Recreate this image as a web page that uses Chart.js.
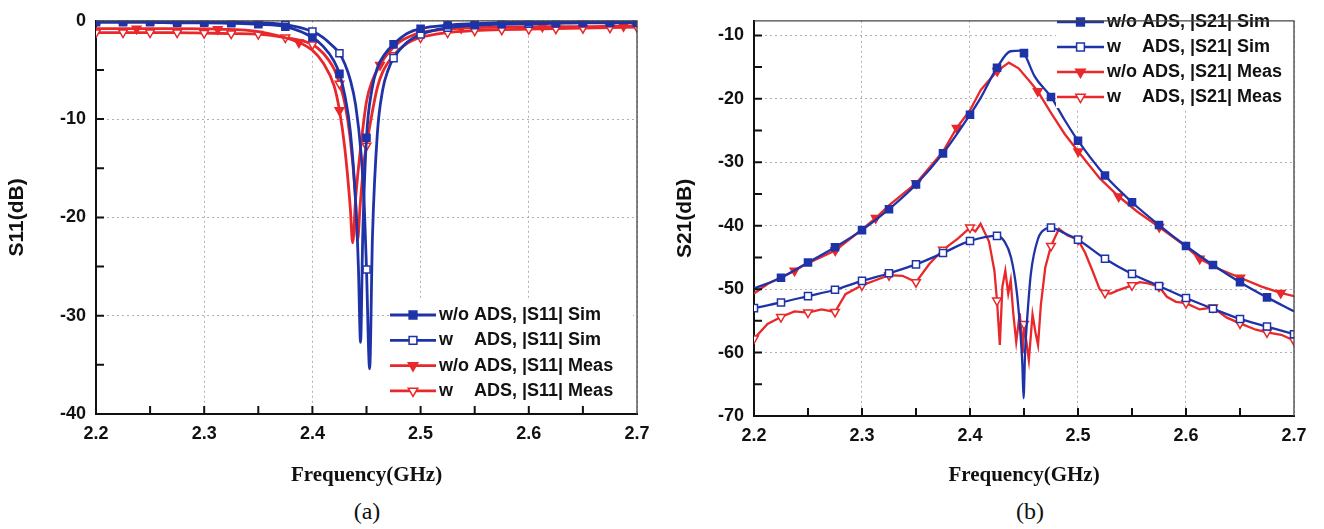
<!DOCTYPE html>
<html>
<head>
<meta charset="utf-8">
<script src="https://cdn.jsdelivr.net/npm/chart.js@4.4.0/dist/chart.umd.min.js"></script>
<style>
  body { margin: 0; background: #fff; width: 1324px; height: 529px; position: relative; overflow: hidden; }
  #chartA { position: absolute; left: 0; top: 0; }
  #chartB { position: absolute; left: 665px; top: 0; }
  .cap { position: absolute; top: 498px; width: 80px; text-align: center; font: 24px "Liberation Serif", "Times New Roman", serif; color: #111; }
</style>
</head>
<body>
<canvas id="chartA" width="665" height="490"></canvas>
<canvas id="chartB" width="659" height="490"></canvas>
<div class="cap" style="left:327px">(a)</div>
<div class="cap" style="left:990px">(b)</div>
<script>
// ---- (a) S11 ----
const every25 = [2.2, 2.225, 2.25, 2.275, 2.3, 2.325, 2.35, 2.375, 2.4, 2.425, 2.45, 2.475, 2.5, 2.525, 2.55, 2.575, 2.6, 2.625, 2.65, 2.675, 2.7];

const s11WoSimF = [2.2, 2.225, 2.25, 2.275, 2.3, 2.325, 2.35, 2.375, 2.4, 2.41, 2.42, 2.425, 2.43, 2.435, 2.44, 2.4425, 2.4445, 2.4465, 2.45, 2.455, 2.46, 2.4675, 2.475, 2.4875, 2.5, 2.525, 2.55, 2.575, 2.6, 2.625, 2.65, 2.675, 2.7];
const s11WoSim  = [-0.15, -0.15, -0.15, -0.2, -0.2, -0.25, -0.35, -0.6, -1.7, -2.6, -4.1, -5.4, -7.6, -11.2, -18.5, -25, -32.7, -22, -11.9, -7.0, -4.8, -3.3, -2.4, -1.3, -0.8, -0.45, -0.3, -0.2, -0.15, -0.15, -0.1, -0.1, -0.1];

const s11WSimF = [2.2, 2.225, 2.25, 2.275, 2.3, 2.325, 2.35, 2.375, 2.4, 2.41, 2.42, 2.425, 2.43, 2.435, 2.44, 2.445, 2.448, 2.45, 2.4529, 2.4555, 2.46, 2.465, 2.47, 2.475, 2.4875, 2.5, 2.525, 2.55, 2.575, 2.6, 2.625, 2.65, 2.675, 2.7];
const s11WSim  = [-0.05, -0.05, -0.05, -0.1, -0.1, -0.15, -0.2, -0.4, -1.1, -1.7, -2.7, -3.3, -4.4, -6.0, -8.6, -13.5, -19, -25.3, -35.4, -22, -11.5, -7.0, -5.0, -3.8, -2.2, -1.4, -0.7, -0.45, -0.35, -0.3, -0.25, -0.2, -0.2, -0.2];

const s11WoMeasF = [2.2, 2.2375, 2.275, 2.3125, 2.35, 2.3875, 2.4, 2.41, 2.42, 2.425, 2.43, 2.435, 2.4372, 2.44, 2.445, 2.45, 2.455, 2.4625, 2.47, 2.48, 2.49, 2.5, 2.5375, 2.575, 2.6125, 2.65, 2.6875, 2.7];
const s11WoMeas  = [-0.8, -0.8, -0.8, -0.85, -1.1, -2.2, -3.0, -4.3, -6.6, -9.1, -13, -19, -22.6, -18, -12.5, -8.2, -6.2, -4.5, -3.3, -2.2, -1.6, -1.2, -0.75, -0.65, -0.6, -0.6, -0.55, -0.55];
const s11WoMeasMarks = [2.2375, 2.3125, 2.3875, 2.425, 2.4625, 2.5375, 2.6125, 2.6875];

const s11WMeasF = [2.2, 2.225, 2.25, 2.275, 2.3, 2.325, 2.35, 2.375, 2.4, 2.41, 2.42, 2.425, 2.43, 2.435, 2.4395, 2.4418, 2.444, 2.4475, 2.45, 2.455, 2.46, 2.465, 2.475, 2.4875, 2.5, 2.525, 2.55, 2.575, 2.6, 2.625, 2.65, 2.675, 2.7];
const s11WMeas  = [-1.2, -1.2, -1.2, -1.2, -1.25, -1.3, -1.35, -1.7, -2.4, -3.3, -4.9, -6.4, -8.4, -12, -17.5, -22.3, -19, -14.5, -12.7, -9.5, -6.8, -5.2, -3.5, -2.3, -1.7, -1.2, -1.0, -0.9, -0.85, -0.8, -0.75, -0.7, -0.65];

// ---- (b) S21 ----
const s21WoSimF = [2.2, 2.225, 2.25, 2.275, 2.3, 2.325, 2.35, 2.375, 2.4, 2.41, 2.425, 2.4375, 2.4475, 2.45, 2.46, 2.475, 2.4875, 2.5, 2.525, 2.55, 2.575, 2.6, 2.625, 2.65, 2.675, 2.7];
const s21WoSim  = [-49.9, -48.2, -45.8, -43.4, -40.7, -37.4, -33.5, -28.6, -22.5, -19.8, -15.1, -12.5, -12.4, -12.8, -16.5, -19.7, -23.3, -26.6, -32.1, -36.3, -39.9, -43.2, -46.2, -48.9, -51.3, -53.5];

const s21WSimF = [2.2, 2.225, 2.25, 2.275, 2.3, 2.325, 2.35, 2.375, 2.4, 2.425, 2.432, 2.438, 2.443, 2.4463, 2.4485, 2.4496, 2.451, 2.453, 2.4564, 2.4631, 2.47, 2.475, 2.4875, 2.5, 2.525, 2.55, 2.575, 2.6, 2.625, 2.65, 2.675, 2.7];
const s21WSim  = [-53.0, -52.1, -51.1, -50.1, -48.7, -47.5, -46.1, -44.3, -42.4, -41.6, -42.5, -45, -50, -56, -62, -67.2, -60, -54.5, -47.5, -42, -40.5, -40.3, -41.2, -42.2, -45.2, -47.6, -49.5, -51.4, -53.1, -54.7, -55.9, -57.1];

const s21WoMeasF = [2.2, 2.2125, 2.2375, 2.25, 2.2752, 2.3, 2.3127, 2.325, 2.3502, 2.375, 2.3877, 2.4, 2.41, 2.4252, 2.436, 2.445, 2.455, 2.4627, 2.475, 2.4875, 2.5002, 2.52, 2.5377, 2.555, 2.5752, 2.6, 2.6127, 2.63, 2.6502, 2.67, 2.6877, 2.7];
const s21WoMeas  = [-50.7, -49.2, -47.1, -45.9, -43.9, -40.6, -38.8, -36.8, -33.3, -28.3, -24.6, -21.8, -18.6, -15.6, -14.3, -15.2, -17.2, -18.8, -22.2, -25.5, -28.3, -32.5, -35.4, -37.8, -40.2, -43.3, -45.2, -46.8, -48.2, -49.6, -50.6, -51.1];
const s21WoMeasMarks = [2.2375, 2.2752, 2.3127, 2.3502, 2.3877, 2.4252, 2.4627, 2.5002, 2.5377, 2.5752, 2.6127, 2.6502, 2.6877];

const s21WMeasF = [2.2, 2.2125, 2.225, 2.2375, 2.25, 2.2625, 2.275, 2.2847, 2.3, 2.3125, 2.325, 2.3375, 2.35, 2.3625, 2.375, 2.389, 2.4, 2.405, 2.4098, 2.4176, 2.4226, 2.425, 2.4276, 2.43, 2.4327, 2.4354, 2.4377, 2.44, 2.4428, 2.4461, 2.4488, 2.45, 2.4545, 2.4579, 2.4606, 2.463, 2.4656, 2.4697, 2.475, 2.4824, 2.4899, 2.5, 2.5067, 2.5134, 2.52, 2.525, 2.5302, 2.5369, 2.55, 2.5571, 2.565, 2.575, 2.5823, 2.5907, 2.6, 2.6126, 2.625, 2.6378, 2.65, 2.6647, 2.675, 2.6882, 2.7];
const s21WMeas  = [-57.8, -55.5, -54.4, -53.5, -53.7, -53.2, -53.6, -50.8, -49.4, -48.6, -47.8, -47.9, -48.9, -46.0, -43.8, -42.0, -40.3, -40.9, -39.7, -42.5, -47.1, -51.8, -58.8, -49.6, -47.1, -50.7, -48.6, -53.7, -58.3, -53.8, -60.1, -55.5, -61.2, -54.0, -56.8, -58.8, -52.5, -46.6, -43.2, -40.5, -41.5, -42.2, -44.3, -47.1, -50.0, -50.6, -50.7, -50.2, -49.4, -48.9, -49.1, -49.6, -51.2, -52.0, -52.2, -53.2, -52.9, -54.5, -55.4, -56.4, -56.8, -57.2, -58.1];

const freqTicks = [2.2, 2.3, 2.4, 2.5, 2.6, 2.7];

const blue = "#1f33a8";
const red = "#e8282b";
const tickFont = { family: '"Liberation Sans", Arial, sans-serif', size: 18, weight: "bold" };

function pts(fs, vs) {
  return fs.map((f, i) => ({ x: f, y: vs[i] }));
}
function markAt(marks, r) {
  return (c) => (c.raw && marks.some((m) => Math.abs(m - c.raw.x) < 1e-6) ? r : 0);
}

function series(label, fs, vs, marks, color, filled, shape, smooth, width) {
  return {
    label,
    data: pts(fs, vs),
    borderColor: color,
    backgroundColor: color,
    borderWidth: width,
    pointStyle: shape,
    pointRotation: shape === "triangle" ? 180 : 0,
    pointBackgroundColor: filled ? color : "#fff",
    pointBorderColor: color,
    pointBorderWidth: 1.5,
    pointRadius: markAt(marks, 5),
    pointHoverRadius: 0,
    tension: smooth ? 0.3 : 0,
    cubicInterpolationMode: smooth ? "monotone" : "default",
  };
}

// frame on top/right and inward ticks every 5 dB / 0.05 GHz
const frameTicks = {
  id: "frameTicks",
  afterDraw(chart) {
    const { ctx, chartArea: a, scales } = chart;
    const x = scales.x, y = scales.y;
    ctx.save();
    ctx.strokeStyle = "#444";
    ctx.lineWidth = 1.3;
    ctx.beginPath();
    ctx.moveTo(a.left, a.top);
    ctx.lineTo(a.right, a.top);
    ctx.lineTo(a.right, a.bottom);
    ctx.stroke();
    ctx.strokeStyle = "#111";
    ctx.lineWidth = 2;
    ctx.beginPath();
    for (let k = 1; k < 10; k++) {
      const px = x.getPixelForValue(2.2 + k * 0.05);
      ctx.moveTo(px, a.bottom);
      ctx.lineTo(px, a.bottom - 8);
    }
    for (let v = Math.ceil(y.min / 5) * 5; v < y.max; v += 5) {
      const py = y.getPixelForValue(v);
      ctx.moveTo(a.left, py);
      ctx.lineTo(a.left + 8, py);
    }
    ctx.stroke();
    ctx.restore();
  },
};

// legend box drawn inside the plot: line + marker + label
const boxLegend = {
  id: "boxLegend",
  afterDatasetsDraw(chart, args, o) {
    const { ctx } = chart;
    ctx.save();
    ctx.fillStyle = "#fff";
    ctx.fillRect(o.left, o.top, o.width, o.height);
    ctx.font = 'bold 18px "Liberation Sans", Arial, sans-serif';
    ctx.textBaseline = "middle";
    const pre = ctx.measureText("w/o ").width;
    chart.data.datasets.forEach((ds, i) => {
      const yy = o.top + o.first + i * o.row;
      const x0 = o.left + 1;
      ctx.strokeStyle = ds.borderColor;
      ctx.lineWidth = ds.borderWidth;
      ctx.beginPath();
      ctx.moveTo(x0, yy);
      ctx.lineTo(x0 + o.line, yy);
      ctx.stroke();
      ctx.fillStyle = ds.pointBackgroundColor;
      ctx.lineWidth = 1.5;
      Chart.helpers.drawPoint(ctx, { pointStyle: ds.pointStyle, rotation: ds.pointRotation, radius: 5.5, borderWidth: 1.5 }, x0 + o.line / 2, yy);
      const k = ds.label.indexOf(" ");
      ctx.fillStyle = "#111";
      ctx.fillText(ds.label.slice(0, k), x0 + o.line + 3, yy);
      ctx.fillText(ds.label.slice(k).trim(), x0 + o.line + 3 + pre, yy);
    });
    ctx.restore();
  },
};

function makeOptions(yMin, yMax, yTitle, yWidth, yTitlePad, pad, plotH, legend) {
  return {
    responsive: false,
    animation: false,
    layout: { padding: pad },
    plugins: { legend: { display: false }, tooltip: { enabled: false }, boxLegend: legend },
    scales: {
      x: {
        type: "linear",
        min: 2.2,
        max: 2.7,
        afterBuildTicks: (s) => { s.ticks = freqTicks.map((v) => ({ value: v })); },
        afterFit: (s) => { s.height = 490 - pad.top - plotH; },
        ticks: { font: tickFont, color: "#111", padding: 9, maxRotation: 0, callback: (v) => v.toFixed(1) },
        grid: { color: "#b0b0b0", lineWidth: 1, drawTicks: false },
        border: { color: "#111", width: 2, dash: [2, 3] },
        title: { display: true, text: "Frequency(GHz)", color: "#111", padding: { top: 0, bottom: 2 },
          font: { family: '"Liberation Serif", "Times New Roman", serif', size: 21, weight: "bold" } },
      },
      y: {
        min: yMin,
        max: yMax,
        afterFit: (s) => { s.width = yWidth; },
        ticks: { stepSize: 10, includeBounds: false, font: tickFont, color: "#111", padding: 10 },
        grid: { color: "#b0b0b0", lineWidth: 1, drawTicks: false },
        border: { color: "#111", width: 2, dash: [2, 3] },
        title: { display: true, text: yTitle, color: "#111", padding: { top: yTitlePad, bottom: 0 },
          font: { family: '"Liberation Sans", Arial, sans-serif', size: 21, weight: "bold" } },
      },
    },
  };
}

new Chart(document.getElementById("chartA"), {
  type: "line",
  data: {
    datasets: [
      series("w/o ADS, |S11| Sim", s11WoSimF, s11WoSim, every25, blue, true, "rect", true, 2.8),
      series("w ADS, |S11| Sim", s11WSimF, s11WSim, every25, blue, false, "rect", true, 2.8),
      series("w/o ADS, |S11| Meas", s11WoMeasF, s11WoMeas, s11WoMeasMarks, red, true, "triangle", true, 2.8),
      series("w ADS, |S11| Meas", s11WMeasF, s11WMeas, every25, red, false, "triangle", true, 2.8),
    ],
  },
  options: makeOptions(-40, 0, "S11(dB)", 96, 5, { left: 0, top: 14, right: 28, bottom: 0 }, 400,
    { left: 389, top: 301, width: 244, height: 103, first: 14, row: 25.3, line: 46 }),
  plugins: [boxLegend, frameTicks],
});

new Chart(document.getElementById("chartB"), {
  type: "line",
  data: {
    datasets: [
      series("w/o ADS, |S21| Sim", s21WoSimF, s21WoSim, every25.slice(1, -1), blue, true, "rect", true, 2.3),
      series("w ADS, |S21| Sim", s21WSimF, s21WSim, every25, blue, false, "rect", true, 2.3),
      series("w/o ADS, |S21| Meas", s21WoMeasF, s21WoMeas, s21WoMeasMarks, red, true, "triangle", false, 2.3),
      series("w ADS, |S21| Meas", s21WMeasF, s21WMeas, every25, red, false, "triangle", false, 2.3),
    ],
  },
  options: makeOptions(-70, -7.7, "S21(dB)", 89, 8, { left: 0, top: 9, right: 30, bottom: 0 }, 407,
    { left: 391, top: 10, width: 238, height: 98, first: 12, row: 25, line: 47 }),
  plugins: [boxLegend, frameTicks],
});
</script>
</body>
</html>
